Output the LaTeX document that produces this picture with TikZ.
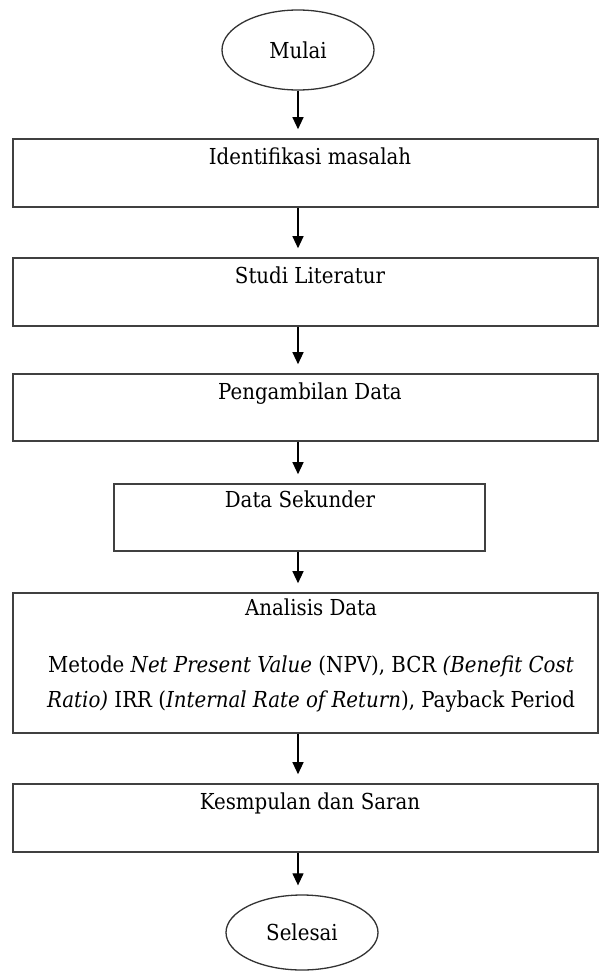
\documentclass[tikz,border=0pt]{standalone}
\usepackage{fontspec}
\setmainfont{DejaVu Serif Condensed}
\usetikzlibrary{arrows.meta,shapes.geometric}
\begin{document}
\begin{tikzpicture}[x=1pt,y=-1pt,
  box/.style={draw=black!75,line width=1.6pt,rectangle,inner sep=0pt},
  oval/.style={draw=black!80,line width=1.3pt,ellipse,inner sep=0pt,minimum width=152pt,font=\fontsize{22}{26}\selectfont},
  txt/.style={anchor=mid,inner sep=0pt,font=\fontsize{22}{26}\selectfont},
  flow/.style={-{Triangle[length=12pt,width=11pt]},line width=1.2pt,black,shorten >=9pt}]
\useasboundingbox (0,0) rectangle (600,972);
\node[oval,minimum height=80pt] (mulai) at (298,50) {Mulai};
\node[box,minimum width=585pt,minimum height=68pt] (b1) at (305.5,173) {};
\node[box,minimum width=585pt,minimum height=68pt] (b2) at (305.5,292) {};
\node[box,minimum width=585pt,minimum height=67pt] (b3) at (305.5,407.5) {};
\node[box,minimum width=371pt,minimum height=67pt] (b4) at (299.5,517.5) {};
\node[box,minimum width=585pt,minimum height=140pt] (b5) at (305.5,663) {};
\node[box,minimum width=585pt,minimum height=68pt] (b6) at (305.5,818) {};
\node[oval,minimum height=75pt] (selesai) at (302,932.5) {Selesai};
\node[txt] (t1) at (310,162) {Identifikasi masalah};
\node[txt] (t2) at (310,281) {Studi Literatur};
\node[txt] (t3) at (310,397) {Pengambilan Data};
\node[txt] (t4) at (300,505) {Data Sekunder};
\node[txt] (t5) at (311,613) {Analisis Data};
\node[txt] (t5b) at (311,670) {Metode \textit{Net Present Value} (NPV), BCR \textit{(Benefit Cost}};
\node[txt] (t5c) at (311,705) {\textit{Ratio)} IRR (\textit{Internal Rate of Return}), Payback Period};
\node[txt] (t6) at (310,807) {Kesmpulan dan Saran};
\draw[flow] (mulai.south) -- (mulai.south |- b1.north);
\draw[flow] (b1.south -| mulai.south) -- (mulai.south |- b2.north);
\draw[flow] (b2.south -| mulai.south) -- (mulai.south |- b3.north);
\draw[flow] (b3.south -| mulai.south) -- (mulai.south |- b4.north);
\draw[flow] (b4.south -| mulai.south) -- (mulai.south |- b5.north);
\draw[flow] (b5.south -| mulai.south) -- (mulai.south |- b6.north);
\draw[flow] (b6.south -| mulai.south) -- (mulai.south |- selesai.north);
\end{tikzpicture}
\end{document}
